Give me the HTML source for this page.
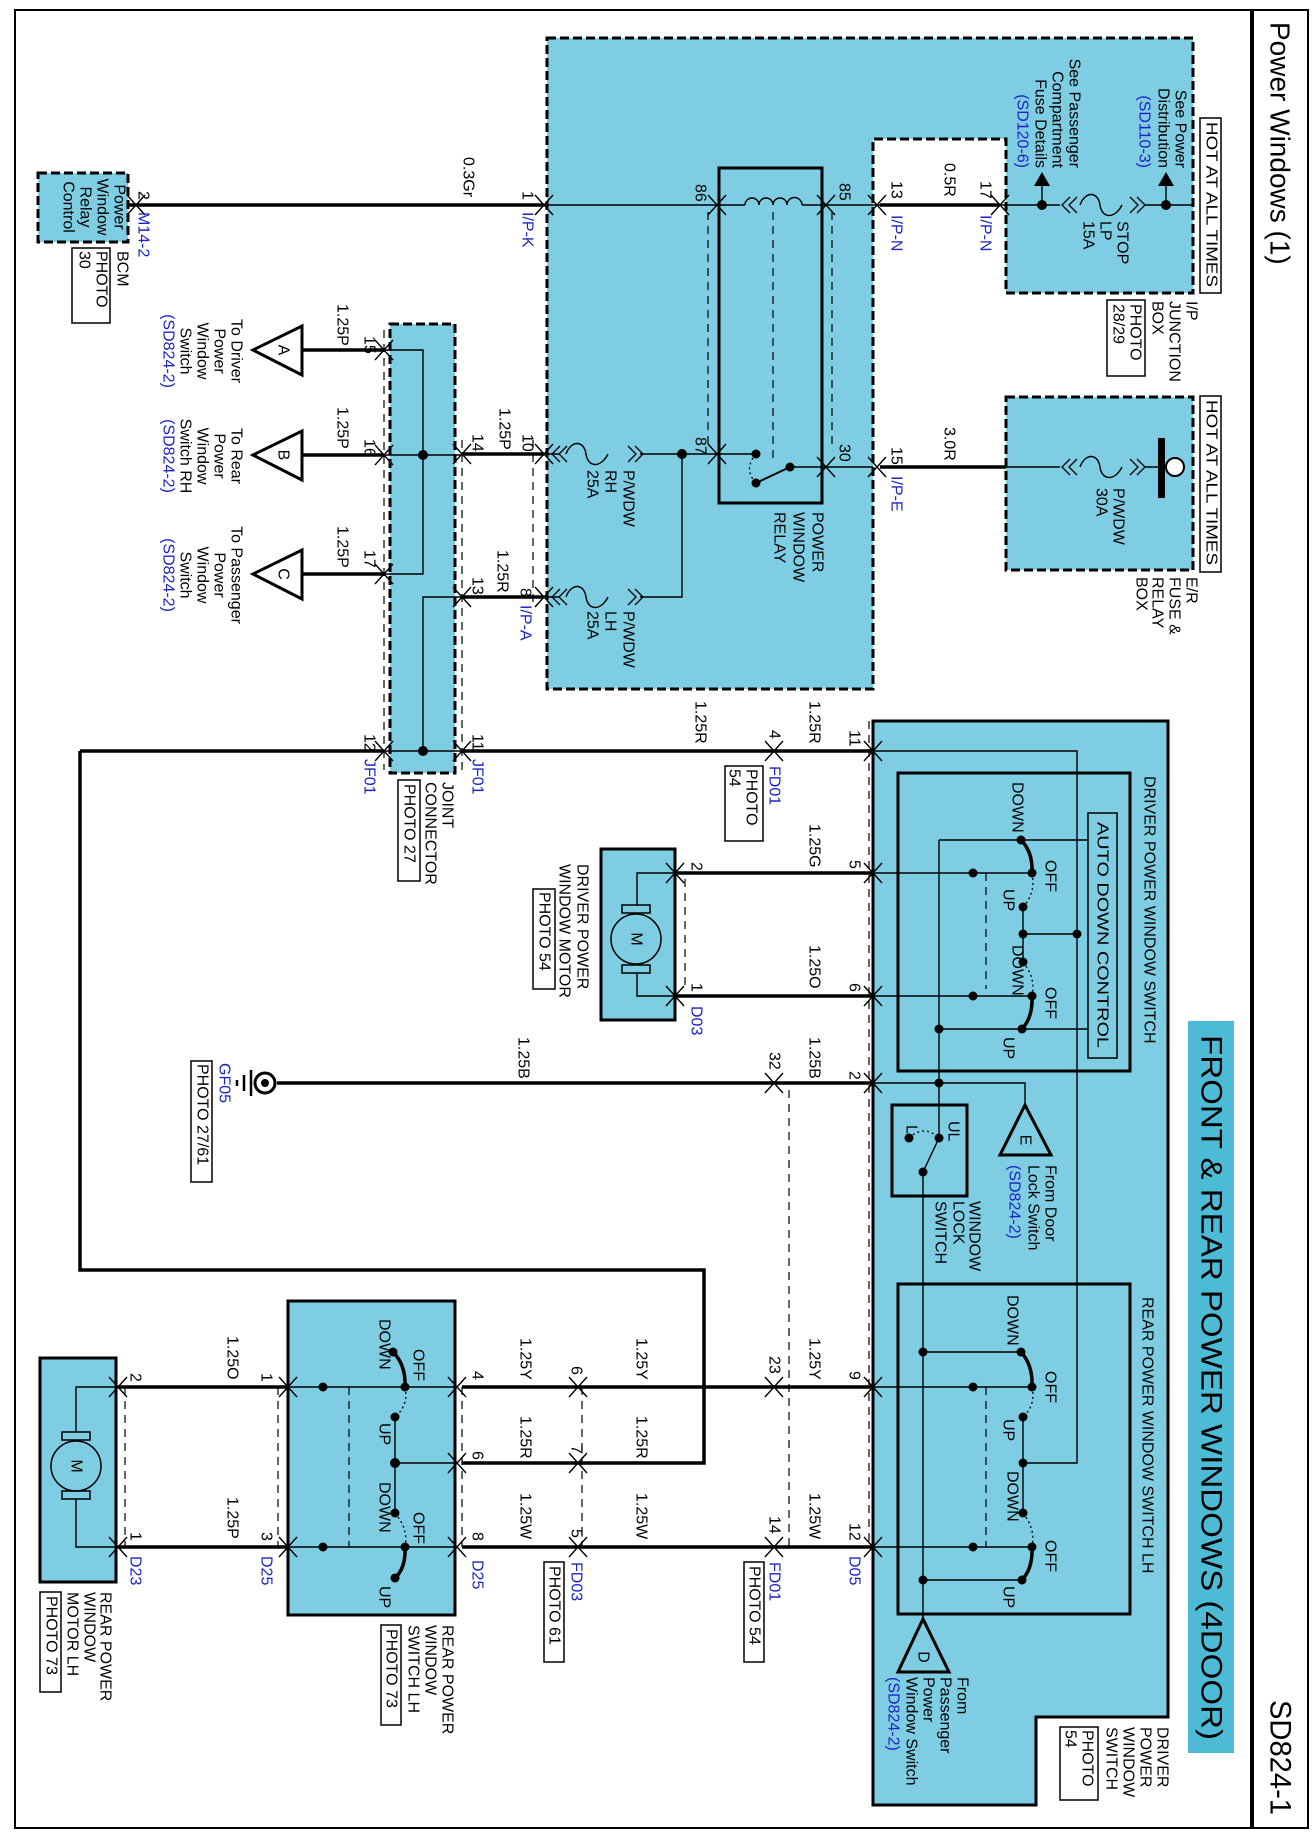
<!DOCTYPE html>
<html><head><meta charset="utf-8"><style>
html,body{margin:0;padding:0;background:#fff}
svg{display:block}
text{font-family:"Liberation Sans",sans-serif;font-size:16px;dominant-baseline:central;fill:#000}
.b{fill:#1c22c4}
.m{text-anchor:middle}
.e{text-anchor:end}
.tk{stroke:#000;stroke-width:3.5;fill:none}
.tn{stroke:#000;stroke-width:1.4;fill:none}
.ds{stroke:#000;stroke-width:1.2;fill:none;stroke-dasharray:8,6}
.dt{stroke:#000;stroke-width:1.3;fill:none;stroke-dasharray:2,3}
.bl{fill:#7fcde2}
.bd{stroke:#000;stroke-width:3;stroke-dasharray:9,4}
.sb{stroke:#000;stroke-width:3}
</style></head><body>
<svg width="1316" height="1840" viewBox="0 0 1316 1840" xmlns="http://www.w3.org/2000/svg">
<defs>
<g id="c"><path d="M-9,-10 L0,0 L-9,10 M9,-10 L0,0 L9,10" fill="none" stroke="#000" stroke-width="1.4"/></g>
</defs>
<rect x="15" y="10" width="1293" height="1818" fill="none" stroke="#000" stroke-width="2"/>
<line x1="1252" y1="10" x2="1252" y2="1828" stroke="#000" stroke-width="4"/>
<rect x="1188" y="1021" width="46" height="732" fill="#4dbbd6"/>

<polygon class="bl bd" points="547,38 1193,38 1193,293 1006,293 1006,139 873,139 873,689 547,689"/>
<rect class="bl bd" x="1006" y="397" width="187" height="173"/>
<rect class="bl bd" x="38" y="173" width="90" height="69"/>
<rect class="bl bd" x="390" y="324" width="65" height="449"/>
<polygon class="bl sb" points="873,721 1168,721 1168,1717 1036,1717 1036,1805 873,1805"/>
<rect x="898" y="773" width="232" height="298" fill="none" class="sb"/>
<rect x="1088" y="813" width="29" height="245" fill="none" stroke="#000" stroke-width="1.5"/>
<rect x="898" y="1284" width="232" height="330" fill="none" class="sb"/>
<rect x="892" y="1105" width="75" height="91" fill="none" class="sb"/>
<rect class="bl sb" x="601" y="849" width="74" height="171"/>
<rect class="bl sb" x="288" y="1301" width="167" height="314"/>
<rect class="bl sb" x="40" y="1358" width="76" height="224"/>

<g fill="#fff" stroke="#000" stroke-width="1.5">
<rect x="1200" y="118" width="21" height="175"/>
<rect x="1200" y="396" width="21" height="176"/>
<rect x="1107" y="300" width="38" height="76"/>
<rect x="72" y="248" width="38" height="75"/>
<rect x="398" y="780" width="22" height="101"/>
<rect x="725" y="766" width="38" height="75"/>
<rect x="533" y="889" width="22" height="100"/>
<rect x="191" y="1061" width="21" height="121"/>
<rect x="744" y="1562" width="20" height="100"/>
<rect x="544" y="1562" width="20" height="100"/>
<rect x="1060" y="1727" width="38" height="73"/>
<rect x="40" y="1592" width="21" height="100"/>
<rect x="381" y="1625" width="20" height="100"/>
</g>

<rect x="719" y="168" width="103" height="335" fill="none" class="sb"/>

<path class="tk" d="M128,205 H544 M880,205 H1000 M880,467 H1006 M544,454 H462 M544,597 H462 M302,350 H384 M302,455 H384 M302,574 H384 M80,751 H384 M462,751 H873 M80,751 V1270 H704 V1463 H462 M675,873 H873 M675,996 H873 M277,1083 H873 M462,1387 H873 M118,1387 H288 M462,1547 H873 M118,1547 H288"/>
<path class="tn" d="M547,205 H745 M802,205 H880 M1000,205 H1060 M1145,205 H1193 M1042,205 V185 M1166,205 V185
M717,454 H756 M790,467 H873 M1006,467 H1060 M1145,467 H1160
M547,454 H560 M640,454 H717 M682,454 V597 H640 M560,597 H547
M384,350 H423 V574 H384 M384,455 H462 M462,597 H423 V751 M384,751 H462
M873,751 H1077 V1463 H1023 M873,873 H1032 M873,996 H1032 M1023,907 V962 M1023,934 H1077 M939,840 H1088 M939,840 V1138 M939,1029 H1088
M873,1083 H1025 V1105 M923,1172 V1619 M923,1172 L939,1138
M873,1387 H1032 M873,1547 H1032 M923,1352 H1021 M923,1580 H1021 M1023,1417 V1513
M288,1387 H455 M288,1547 H455 M395,1417 V1513 M395,1463 H455
M675,873 H637 V905 M675,996 H637 V973 M118,1387 H76 V1432 M118,1547 H76 V1499"/>
<path d="M1032,873 Q1033,852 1021,840 M1032,996 Q1033,1017 1022,1029 M1032,1387 Q1033,1365 1021,1352 M1032,1547 Q1033,1568 1022,1580 M405,1387 Q406,1365 393,1352 M405,1547 Q406,1568 395,1578" fill="none" stroke="#000" stroke-width="3.5"/>
<path d="M790,467 L756,483" stroke="#000" stroke-width="2"/>
<path class="dt" d="M1032,873 Q1036,893 1023,907 M1023,962 Q1036,978 1032,996 M1032,1387 Q1036,1405 1023,1417 M1023,1513 Q1036,1530 1032,1547 M405,1387 Q409,1405 395,1417 M395,1513 Q409,1530 405,1547 M756,454 Q743,469 756,483 M909,1138 Q924,1124 939,1138"/>
<path class="tn" d="M745,205 a7,7 0 0 1 14,0 a7,7 0 0 1 14,0 a7,7 0 0 1 14,0 a7,7 0 0 1 15,0"/>
<path class="tn" d="M1080,205 c5,-14 18,-14 20,0 s15,14 22,0 M1080,467 c5,-14 18,-14 20,0 s15,14 22,0 M566,454 c5,-14 18,-14 20,0 s15,14 22,0 M566,597 c5,-14 18,-14 20,0 s15,14 22,0"/>
<g fill="none" stroke="#000" stroke-width="1.3">
<path d="M1070,197 L1062,205 L1070,213 M1077,197 L1069,205 L1077,213 M1130,197 L1138,205 L1130,213 M1137,197 L1145,205 L1137,213"/>
<path d="M1070,459 L1062,467 L1070,475 M1077,459 L1069,467 L1077,475 M1130,459 L1138,467 L1130,475 M1137,459 L1145,467 L1137,475"/>
<path d="M560,446 L552,454 L560,462 M567,446 L559,454 L567,462 M628,446 L636,454 L628,462 M635,446 L643,454 L635,462"/>
<path d="M560,589 L552,597 L560,605 M567,589 L559,597 L567,605 M628,589 L636,597 L628,605 M635,589 L643,597 L635,605"/>
</g>
<path class="ds" d="M384,330 V770 M462,440 V770 M533,440 V605 M708,212 V447 M773,212 V462 M832,212 V447 M685,879 V991 M869,721 V1547 M789,1090 V1547 M582,1387 V1547 M462,1387 V1547 M278,1387 V1547 M125,1387 V1547 M986,873 V989 M986,1387 V1547 M349,1387 V1547"/>
<g>
<use href="#c" x="136" y="205"/><use href="#c" x="544" y="205"/><use href="#c" x="717" y="205"/><use href="#c" x="826" y="205"/><use href="#c" x="877" y="205"/><use href="#c" x="1000" y="205"/>
<use href="#c" x="826" y="467"/><use href="#c" x="877" y="467"/><use href="#c" x="717" y="454"/><use href="#c" x="544" y="454"/><use href="#c" x="544" y="597"/>
<use href="#c" x="462" y="454"/><use href="#c" x="462" y="597"/><use href="#c" x="384" y="350"/><use href="#c" x="384" y="455"/><use href="#c" x="384" y="574"/>
<use href="#c" x="384" y="751"/><use href="#c" x="462" y="751"/><use href="#c" x="774" y="751"/><use href="#c" x="873" y="751"/>
<use href="#c" x="873" y="873"/><use href="#c" x="873" y="996"/><use href="#c" x="675" y="873"/><use href="#c" x="675" y="996"/>
<use href="#c" x="873" y="1083"/><use href="#c" x="774" y="1083"/>
<use href="#c" x="873" y="1387"/><use href="#c" x="774" y="1387"/><use href="#c" x="578" y="1387"/><use href="#c" x="457" y="1387"/><use href="#c" x="288" y="1387"/><use href="#c" x="118" y="1387"/>
<use href="#c" x="578" y="1463"/><use href="#c" x="457" y="1463"/>
<use href="#c" x="873" y="1547"/><use href="#c" x="774" y="1547"/><use href="#c" x="578" y="1547"/><use href="#c" x="457" y="1547"/><use href="#c" x="288" y="1547"/><use href="#c" x="118" y="1547"/>
</g>
<g fill="#000">
<circle cx="1042" cy="205" r="5"/><circle cx="1166" cy="205" r="5"/>
<circle cx="682" cy="454" r="5"/><circle cx="756" cy="454" r="4.5"/><circle cx="790" cy="467" r="4.5"/><circle cx="756" cy="483" r="4.5"/>
<circle cx="423" cy="455" r="5"/><circle cx="423" cy="751" r="5"/>
<circle cx="973" cy="873" r="4.5"/><circle cx="973" cy="996" r="4.5"/><circle cx="1032" cy="873" r="4.5"/><circle cx="1032" cy="996" r="4.5"/>
<circle cx="1021" cy="840" r="4.5"/><circle cx="1023" cy="907" r="4.5"/><circle cx="1023" cy="934" r="4.5"/><circle cx="1077" cy="934" r="4.5"/><circle cx="1023" cy="962" r="4.5"/><circle cx="1022" cy="1029" r="4.5"/><circle cx="939" cy="1029" r="4.5"/>
<circle cx="939" cy="1083" r="4.5"/><circle cx="939" cy="1138" r="4.5"/><circle cx="909" cy="1138" r="4.5"/><circle cx="923" cy="1172" r="4.5"/>
<circle cx="973" cy="1387" r="4.5"/><circle cx="973" cy="1547" r="4.5"/><circle cx="1032" cy="1387" r="4.5"/><circle cx="1032" cy="1547" r="4.5"/>
<circle cx="1021" cy="1352" r="4.5"/><circle cx="1023" cy="1417" r="4.5"/><circle cx="1023" cy="1463" r="4.5"/><circle cx="1023" cy="1513" r="4.5"/><circle cx="1022" cy="1580" r="4.5"/><circle cx="923" cy="1352" r="4.5"/><circle cx="923" cy="1580" r="4.5"/>
<circle cx="323" cy="1387" r="4.5"/><circle cx="323" cy="1547" r="4.5"/><circle cx="405" cy="1387" r="4.5"/><circle cx="405" cy="1547" r="4.5"/>
<circle cx="393" cy="1352" r="4.5"/><circle cx="395" cy="1417" r="4.5"/><circle cx="395" cy="1463" r="5"/><circle cx="395" cy="1513" r="4.5"/><circle cx="395" cy="1578" r="4.5"/>
<polygon points="1042,172 1034,186 1050,186"/><polygon points="1166,172 1158,186 1174,186"/>
<rect x="1158" y="438" width="7" height="60"/>
</g>
<circle cx="1175" cy="467" r="9" fill="#fff" stroke="#000" stroke-width="2"/>
<g fill="#fff" stroke="#000" stroke-width="3">
<polygon points="253,350 302,326 302,375"/><polygon points="253,455 302,431 302,480"/><polygon points="253,574 302,550 302,599"/>
</g>
<g fill="none" stroke="#000" stroke-width="3">
<polygon points="1025,1105 1000,1155 1051,1155"/><polygon points="923,1619 898,1672 949,1672"/>
</g>
<g stroke="#000" stroke-width="1.5" fill="none">
<rect x="622" y="905" width="28" height="8"/><rect x="622" y="965" width="28" height="8"/><circle cx="636" cy="939" r="25"/>
<rect x="62" y="1432" width="28" height="8"/><rect x="62" y="1491" width="28" height="8"/><circle cx="76" cy="1466" r="25"/>
</g>
<circle cx="265" cy="1083" r="10" fill="#fff" stroke="#000" stroke-width="3"/><circle cx="265" cy="1083" r="4"/>
<path d="M251,1070 V1096 M244,1075 V1091 M237,1080 V1086" stroke="#000" stroke-width="2.5"/>

<g transform="translate(1316,0) rotate(90)">
<text x="22" y="36" style="font-size:28px">Power Windows (1)</text>
<text x="1700" y="36" style="font-size:30px" textLength="115" lengthAdjust="spacingAndGlyphs">SD824-1</text>
<text x="1035" y="105" style="font-size:30px" textLength="705" lengthAdjust="spacingAndGlyphs">FRONT &amp; REAR POWER WINDOWS (4DOOR)</text>
<text x="122" y="105" textLength="165" lengthAdjust="spacingAndGlyphs">HOT AT ALL TIMES</text>
<text x="400" y="105" textLength="165" lengthAdjust="spacingAndGlyphs">HOT AT ALL TIMES</text>
<text x="168" y="136" class="e">See Power</text><text x="168" y="153" class="e">Distribution</text><text x="168" y="172" class="e b">(SD110-3)</text>
<text x="168" y="242" class="e">See Passenger</text><text x="168" y="259" class="e">Compartment</text><text x="168" y="276" class="e">Fuse Details</text><text x="168" y="294" class="e b">(SD120-6)</text>
<text x="221" y="194">STOP</text><text x="221" y="211">LP</text><text x="221" y="228">15A</text>
<text x="488" y="198">P/WDW</text><text x="488" y="215">30A</text>
<text x="301" y="125">I/P</text><text x="301" y="142">JUNCTION</text><text x="301" y="159">BOX</text>
<text x="304" y="181">PHOTO</text><text x="304" y="198">28/29</text>
<text x="577" y="125">E/R</text><text x="577" y="142">FUSE &amp;</text><text x="577" y="159">RELAY</text><text x="577" y="175">BOX</text>
<text x="207" y="1197" class="m">Power</text><text x="207" y="1214" class="m">Window</text><text x="207" y="1231" class="m">Relay</text><text x="207" y="1248" class="m">Control</text>
<text x="191" y="1173">2</text><text x="212" y="1173" class="b">M14-2</text>
<text x="251" y="1194">BCM</text><text x="251" y="1215">PHOTO</text><text x="251" y="1232">30</text>
<text x="157" y="848">0.3Gr</text>
<text x="191" y="789">1</text><text x="212" y="789" class="b">I/P-K</text>
<text x="184" y="616">86</text><text x="183" y="472">85</text>
<text x="181" y="420">13</text><text x="215" y="420" class="b">I/P-N</text>
<text x="163" y="367">0.5R</text>
<text x="181" y="331">17</text><text x="215" y="331" class="b">I/P-N</text>
<text x="427" y="367">3.0R</text>
<text x="447" y="420">15</text><text x="476" y="420" class="b">I/P-E</text>
<text x="444" y="472">30</text><text x="437" y="616">87</text>
<text x="512" y="499">POWER</text><text x="512" y="518">WINDOW</text><text x="512" y="537">RELAY</text>
<text x="470" y="688">P/WDW</text><text x="470" y="706">RH</text><text x="470" y="724">25A</text>
<text x="611" y="688">P/WDW</text><text x="611" y="706">LH</text><text x="611" y="724">25A</text>
<text x="434" y="789">10</text><text x="408" y="812">1.25P</text><text x="434" y="839">14</text>
<text x="588" y="791">8</text><text x="605" y="791" class="b">I/P-A</text><text x="550" y="814">1.25R</text><text x="577" y="839">13</text>
<text x="336" y="947">15</text><text x="304" y="974">1.25P</text>
<text x="439" y="947">16</text><text x="407" y="974">1.25P</text>
<text x="550" y="947">17</text><text x="526" y="974">1.25P</text>
<text x="350" y="1033" class="m">A</text><text x="455" y="1033" class="m">B</text><text x="574" y="1033" class="m">C</text>
<text x="351" y="1080" class="m">To Driver</text><text x="351" y="1097" class="m">Power</text><text x="351" y="1114" class="m">Window</text><text x="351" y="1131" class="m">Switch</text><text x="351" y="1148" class="m b">(SD824-2)</text>
<text x="456" y="1080" class="m">To Rear</text><text x="456" y="1097" class="m">Power</text><text x="456" y="1114" class="m">Window</text><text x="456" y="1131" class="m">Switch RH</text><text x="456" y="1148" class="m b">(SD824-2)</text>
<text x="575" y="1080" class="m">To Passenger</text><text x="575" y="1097" class="m">Power</text><text x="575" y="1114" class="m">Window</text><text x="575" y="1131" class="m">Switch</text><text x="575" y="1148" class="m b">(SD824-2)</text>
<text x="734" y="947">12</text><text x="759" y="947" class="b">JF01</text>
<text x="734" y="839">11</text><text x="759" y="839" class="b">JF01</text>
<text x="782" y="869">JOINT</text><text x="782" y="886">CONNECTOR</text><text x="784" y="907">PHOTO 27</text>
<text x="701" y="616">1.25R</text><text x="730" y="542">4</text><text x="766" y="542" class="b">FD01</text>
<text x="769" y="565">PHOTO</text><text x="769" y="582">54</text>
<text x="701" y="502">1.25R</text><text x="730" y="462">11</text>
<text x="776" y="167">DRIVER POWER WINDOW SWITCH</text>
<text x="822" y="214" textLength="226" lengthAdjust="spacingAndGlyphs">AUTO DOWN CONTROL</text>
<text x="782" y="299">DOWN</text><text x="860" y="266">OFF</text><text x="889" y="308">UP</text>
<text x="945" y="299">DOWN</text><text x="987" y="266">OFF</text><text x="1037" y="308">UP</text>
<text x="860" y="462">5</text><text x="824" y="502">1.25G</text><text x="862" y="620">2</text>
<text x="983" y="462">6</text><text x="945" y="502">1.25O</text><text x="983" y="620">1</text><text x="1006" y="620" class="b">D03</text>
<text x="939" y="680" class="m">M</text>
<text x="864" y="734">DRIVER POWER</text><text x="864" y="752">WINDOW MOTOR</text><text x="892" y="772">PHOTO 54</text>
<text x="1037" y="793">1.25B</text><text x="1052" y="542">32</text><text x="1037" y="502">1.25B</text><text x="1071" y="462">2</text>
<text x="1063" y="1092" class="b">GF05</text><text x="1064" y="1114">PHOTO 27/61</text>
<text x="1140" y="291" class="m">E</text>
<text x="1165" y="266">From Door</text><text x="1165" y="283">Lock Switch</text><text x="1165" y="302" class="b">(SD824-2)</text>
<text x="1121" y="363">UL</text><text x="1125" y="405">L</text>
<text x="1201" y="342">WINDOW</text><text x="1201" y="358">LOCK</text><text x="1201" y="376">SWITCH</text>
<text x="1371" y="462">9</text><text x="1338" y="502">1.25Y</text><text x="1356" y="542">23</text><text x="1338" y="675">1.25Y</text><text x="1366" y="740">6</text><text x="1338" y="791">1.25Y</text><text x="1371" y="839">4</text>
<text x="1445" y="740">7</text><text x="1416" y="675">1.25R</text><text x="1416" y="791">1.25R</text><text x="1451" y="839">6</text>
<text x="1523" y="462">12</text><text x="1493" y="502">1.25W</text><text x="1516" y="542">14</text><text x="1562" y="542" class="b">FD01</text><text x="1566" y="562">PHOTO 54</text><text x="1556" y="462" class="b">D05</text>
<text x="1493" y="675">1.25W</text><text x="1529" y="740">5</text><text x="1562" y="740" class="b">FD03</text><text x="1566" y="762">PHOTO 61</text>
<text x="1493" y="791">1.25W</text><text x="1532" y="839">8</text><text x="1560" y="839" class="b">D25</text>
<text x="1297" y="169">REAR POWER WINDOW SWITCH LH</text>
<text x="1295" y="304">DOWN</text><text x="1371" y="266">OFF</text><text x="1419" y="308">UP</text>
<text x="1471" y="304">DOWN</text><text x="1540" y="266">OFF</text><text x="1586" y="308">UP</text>
<text x="1657" y="393" class="m">D</text>
<text x="1677" y="354">From</text><text x="1677" y="371">Passenger</text><text x="1677" y="388">Power</text><text x="1677" y="405">Window Switch</text><text x="1677" y="423" class="b">(SD824-2)</text>
<text x="1727" y="154">DRIVER</text><text x="1727" y="171">POWER</text><text x="1727" y="188">WINDOW</text><text x="1727" y="205">SWITCH</text>
<text x="1730" y="229">PHOTO</text><text x="1730" y="246">54</text>
<text x="1319" y="932">DOWN</text><text x="1349" y="898">OFF</text><text x="1423" y="932">UP</text>
<text x="1482" y="932">DOWN</text><text x="1512" y="898">OFF</text><text x="1586" y="932">UP</text>
<text x="1373" y="1050">1</text><text x="1336" y="1084">1.25O</text><text x="1373" y="1181">2</text>
<text x="1532" y="1050">3</text><text x="1497" y="1084">1.25P</text><text x="1532" y="1181">1</text>
<text x="1556" y="1050" class="b">D25</text><text x="1556" y="1181" class="b">D23</text>
<text x="1466" y="1240" class="m">M</text>
<text x="1592" y="1211">REAR POWER</text><text x="1592" y="1227">WINDOW</text><text x="1592" y="1244">MOTOR LH</text><text x="1596" y="1265">PHOTO 73</text>
<text x="1625" y="869">REAR POWER</text><text x="1625" y="886">WINDOW</text><text x="1625" y="903">SWITCH LH</text><text x="1629" y="925">PHOTO 73</text>
</g>
</svg>
</body></html>
